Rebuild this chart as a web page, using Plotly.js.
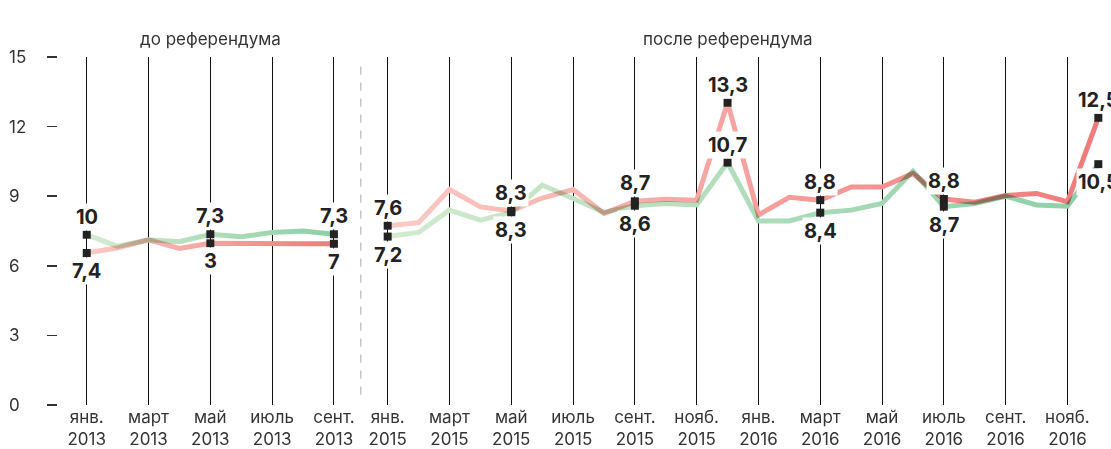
<!DOCTYPE html>
<html>
<head>
<meta charset="utf-8">
<script src="https://cdn.plot.ly/plotly-3.0.1.min.js"></script>
<style>
  html, body { margin: 0; padding: 0; background: #fff; }
  #chart { width: 1111px; height: 449px; }
</style>
</head>
<body>
<div id="chart"></div>
<script>
// ---------- data ----------
const months2013 = ['2013-01','2013-02','2013-03','2013-04','2013-05','2013-06','2013-07','2013-08','2013-09'];
const red2013    = [6.55, 6.78, 7.12, 6.75, 6.97, 6.95, 6.95, 6.95, 6.95];
const green2013  = [7.34, 6.84, 7.12, 7.04, 7.36, 7.25, 7.44, 7.50, 7.36];

const months1516 = ['2015-01','2015-02','2015-03','2015-04','2015-05','2015-06','2015-07','2015-08','2015-09','2015-10','2015-11','2015-12',
                    '2016-01','2016-02','2016-03','2016-04','2016-05','2016-06','2016-07','2016-08','2016-09','2016-10','2016-11','2016-12'];
const red1516    = [7.73, 7.86, 9.29, 8.54, 8.37, 8.92, 9.29, 8.26, 8.78, 8.87, 8.83, 13.03,
                    8.19, 8.95, 8.83, 9.40, 9.40, 9.98, 8.88, 8.74, 9.03, 9.12, 8.76, 12.38];
const green1516  = [7.26, 7.44, 8.40, 7.97, 8.30, 9.48, 8.90, 8.30, 8.59, 8.69, 8.62, 10.45,
                    7.93, 7.93, 8.29, 8.40, 8.69, 10.08, 8.55, 8.68, 9.00, 8.62, 8.57, 10.38];

const labelMonths = ['2013-01','2013-05','2013-09','2015-01','2015-05','2015-09','2015-12','2016-03','2016-07','2016-12'];
const redLabels   = ['7,4','3','7','7,6','8,3','8,7','13,3','8,8','8,8','12,5'];
const redLabelPos = ['below','below','below','above','above','above','above','above','above','above'];
const greenLabels = ['10','7,3','7,3','7,2','8,3','8,6','10,7','8,4','8,7','10,5'];
const greenLabelPos = ['above','above','above','below','below','below','above','below','below','below'];

const tickMonths = ['2013-01','2013-03','2013-05','2013-07','2013-09',
                    '2015-01','2015-03','2015-05','2015-07','2015-09','2015-11',
                    '2016-01','2016-03','2016-05','2016-07','2016-09','2016-11'];
const monthNames = {'01':'янв.','03':'март','05':'май','07':'июль','09':'сент.','11':'нояб.'};

const yTicks = [0, 3, 6, 9, 12, 15];
const sectionTitles = ['до референдума', 'после референдума'];

// ---------- scale helpers ----------
const GAP_START = 9.74;   // axis position of Jan 2015 (gap after Sep 2013)
function mx(m) {
  const [y, mo] = m.split('-').map(Number);
  if (y === 2013) return mo - 1;
  return GAP_START + (y - 2015) * 12 + (mo - 1);
}
const allMonths = months2013.concat(months1516);
const redAll = red2013.concat(red1516);
const greenAll = green2013.concat(green1516);

const FONT = 'Inter, "Noto Sans", sans-serif';
const RED0 = '#fbcac4', RED1 = '#f07a7a';
const GRN0 = '#d3ebcf', GRN1 = '#8ccfa6';

const lineSpecs = [
  {x: months2013.map(mx), y: red2013,   c0: RED0, c1: RED1},
  {x: months2013.map(mx), y: green2013, c0: GRN0, c1: GRN1},
  {x: months1516.map(mx), y: red1516,   c0: RED0, c1: RED1},
  {x: months1516.map(mx), y: green1516, c0: GRN0, c1: GRN1}
];

const traces = lineSpecs.map(s => ({
  type: 'scatter', mode: 'lines', x: s.x, y: s.y,
  line: {color: s.c1, width: 5, shape: 'linear'},
  hoverinfo: 'skip', showlegend: false
}));

// markers + value labels
const mkX = [], mkY = [];
const annotations = [];
labelMonths.forEach((m, i) => {
  const idx = allMonths.indexOf(m);
  const r = redAll[idx], g = greenAll[idx];
  mkX.push(mx(m), mx(m)); mkY.push(r, g);
  [[r, redLabels[i], redLabelPos[i]], [g, greenLabels[i], greenLabelPos[i]]].forEach(([v, t, pos]) => {
    annotations.push({
      x: mx(m), y: v, xref: 'x', yref: 'y', text: t, showarrow: false,
      yshift: pos === 'above' ? 18 : -18, bgcolor: '#ffffff', borderpad: 1,
      font: {family: FONT, size: 20, color: '#222', weight: 700}
    });
  });
});
traces.push({
  type: 'scatter', mode: 'markers', x: mkX, y: mkY,
  marker: {symbol: 'square', size: 8, color: '#222', line: {width: 0}},
  hoverinfo: 'skip', showlegend: false
});

// y tick labels (left aligned)
yTicks.forEach(v => annotations.push({
  x: 0, y: v, xref: 'paper', yref: 'y', text: String(v), showarrow: false,
  xanchor: 'left', xshift: -51, font: {family: FONT, size: 17, color: '#333'}
}));

// section titles
annotations.push({
  x: (mx('2013-01') + mx('2013-09')) / 2, y: 1, xref: 'x', yref: 'paper', yanchor: 'bottom', yshift: 6,
  text: sectionTitles[0], showarrow: false, font: {family: FONT, size: 17, color: '#333'}
});
annotations.push({
  x: (mx('2015-01') + mx('2016-12')) / 2 - 0.5, y: 1, xref: 'x', yref: 'paper', yanchor: 'bottom', yshift: 6,
  text: sectionTitles[1], showarrow: false, font: {family: FONT, size: 17, color: '#333'}
});

const layout = {
  width: 1111, height: 449,
  margin: {l: 58, r: 0, t: 57, b: 44},
  paper_bgcolor: '#fff', plot_bgcolor: '#fff',
  font: {family: FONT, size: 17, color: '#333'},
  xaxis: {
    range: [-0.93, 33.15], tickmode: 'array',
    tickvals: tickMonths.map(mx),
    ticktext: tickMonths.map(m => monthNames[m.slice(5)] + '<br>' + m.slice(0, 4)),
    showgrid: true, gridcolor: '#111', gridwidth: 1,
    zeroline: false, showline: false, ticks: '',
    tickfont: {family: FONT, size: 17, color: '#333'}
  },
  yaxis: {
    range: [0, 15], tickmode: 'array', tickvals: yTicks,
    showticklabels: false, ticks: 'outside', ticklen: 10, tickwidth: 1.5, tickcolor: '#333',
    showgrid: false, zeroline: false, showline: false
  },
  shapes: [{
    type: 'line', xref: 'x', yref: 'paper',
    x0: (mx('2013-09') + GAP_START) / 2, x1: (mx('2013-09') + GAP_START) / 2, y0: 0.03, y1: 0.98,
    line: {color: '#aaaaaa', width: 1, dash: '8px,8px'}, layer: 'below'
  }],
  annotations: annotations
};

Plotly.newPlot('chart', traces, layout, {staticPlot: true, displayModeBar: false}).then(gd => {
  const ns = 'http://www.w3.org/2000/svg';
  const svg = gd.querySelector('svg.main-svg');
  const defs = document.createElementNS(ns, 'defs');
  svg.insertBefore(defs, svg.firstChild);
  const xa = gd._fullLayout.xaxis;
  const tr = gd.querySelectorAll('.scatterlayer .trace');
  lineSpecs.forEach((s, i) => {
    const path = tr[i] && tr[i].querySelector('path.js-line');
    if (!path) return;
    const id = 'lg' + i;
    const lg = document.createElementNS(ns, 'linearGradient');
    lg.setAttribute('id', id);
    lg.setAttribute('gradientUnits', 'userSpaceOnUse');
    lg.setAttribute('x1', xa.l2p(s.x[0]));
    lg.setAttribute('x2', xa.l2p(s.x[s.x.length - 1]));
    lg.setAttribute('y1', 0); lg.setAttribute('y2', 0);
    [[0, s.c0], [1, s.c1]].forEach(([o, c]) => {
      const st = document.createElementNS(ns, 'stop');
      st.setAttribute('offset', o); st.setAttribute('stop-color', c);
      lg.appendChild(st);
    });
    defs.appendChild(lg);
    path.style.stroke = 'url(#' + id + ')';
    path.style.mixBlendMode = 'multiply';
  });
});
</script>
</body>
</html>
